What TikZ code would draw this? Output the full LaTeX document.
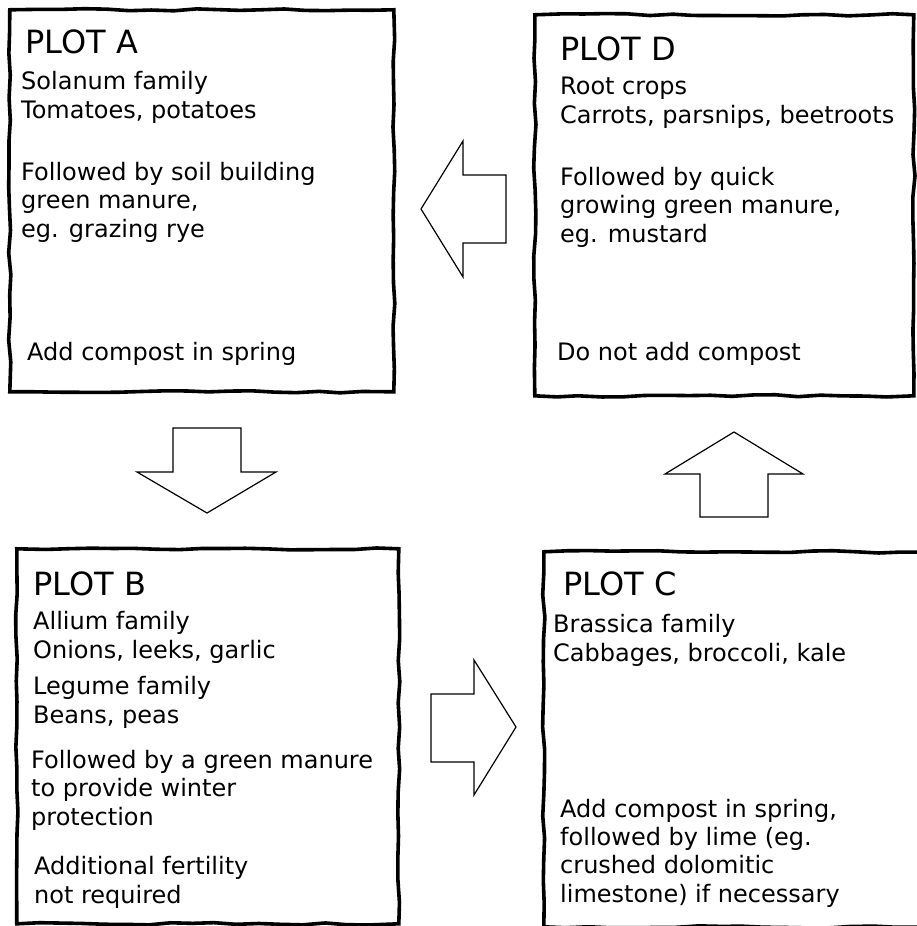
\documentclass[tikz,border=0pt]{standalone}
\usepackage{fontspec}
\setmainfont{DejaVu Sans}
\usetikzlibrary{decorations.pathmorphing}

\tikzset{
  plotbox/.style={draw, line width=3.6pt, inner sep=0pt, anchor=north west,
    decorate, decoration={random steps, segment length=22pt, amplitude=1.2pt}},
  plottitle/.style={anchor=base west, inner sep=0pt, font=\fontsize{32}{38}\selectfont},
  % base of a body node = baseline of its last line
  body/.style={anchor=base west, inner sep=0pt, align=left, font=\fontsize{24}{28.3}\selectfont},
  turnarrow/.style={draw, line width=1.2pt, line join=miter, fill=white}
}

\begin{document}
\begin{tikzpicture}[x=1pt, y=-1pt]
    \useasboundingbox (0,0) rectangle (916,926);
    \pgfmathsetseed{11}

    % the four plots
    \node[plotbox, minimum width=384pt, minimum height=382pt] (plotA) at (8,8) {};
    \node[plotbox, minimum width=379pt, minimum height=381pt] (plotD) at (533,13) {};
    \node[plotbox, minimum width=382pt, minimum height=375pt] (plotB) at (15,547) {};
    \node[plotbox, minimum width=400pt, minimum height=375pt] (plotC) at (542,550) {};

    % plot A
    \node[plottitle] (titleA) at ([shift={(17,45)}]plotA.north west) {PLOT A};
    \node[body] (cropsA) at ([shift={(13,110)}]plotA.north west) {Solanum family\\Tomatoes, potatoes};
    \node[body] (manureA) at ([shift={(13,229)}]plotA.north west) {Followed by soil building\\green manure,\\eg. grazing rye};
    \node[body] (compostA) at ([shift={(19,352)}]plotA.north west) {Add compost in spring};

    % plot D
    \node[plottitle] (titleD) at ([shift={(27,47)}]plotD.north west) {PLOT D};
    \node[body] (cropsD) at ([shift={(27,110)}]plotD.north west) {Root crops\\Carrots, parsnips, beetroots};
    \node[body] (manureD) at ([shift={(27,229)}]plotD.north west) {Followed by quick\\growing green manure,\\eg. mustard};
    \node[body] (compostD) at ([shift={(24,347)}]plotD.north west) {Do not add compost};

    % plot B
    \node[plottitle] (titleB) at ([shift={(18,48)}]plotB.north west) {PLOT B};
    \node[body] (alliumB) at ([shift={(18,111)}]plotB.north west) {Allium family\\Onions, leeks, garlic};
    \node[body] (legumeB) at ([shift={(18,176)}]plotB.north west) {Legume family\\Beans, peas};
    \node[body] (manureB) at ([shift={(16,278)}]plotB.north west) {Followed by a green manure\\to provide winter\\protection};
    \node[body] (fertB) at ([shift={(19,356)}]plotB.north west) {Additional fertility\\not required};

    % plot C
    \node[plottitle] (titleC) at ([shift={(21,45)}]plotC.north west) {PLOT C};
    \node[body] (cropsC) at ([shift={(11,111)}]plotC.north west) {Brassica family\\Cabbages, broccoli, kale};
    \node[body] (compostC) at ([shift={(18,352)}]plotC.north west) {Add compost in spring,\\followed by lime (eg.\\crushed dolomitic\\limestone) if necessary};

    % rotation arrows
    \draw[turnarrow] (506,175) -- (463,175) -- (463,141) -- (421,209) -- (463,277) -- (463,243) -- (506,243) -- cycle; % D to A
    \draw[turnarrow] (173,428) -- (241,428) -- (241,472) -- (276,472) -- (207,513) -- (137,472) -- (173,472) -- cycle; % A to B
    \draw[turnarrow] (431,694) -- (474,694) -- (474,660) -- (516,727) -- (474,795) -- (474,762) -- (431,762) -- cycle; % B to C
    \draw[turnarrow] (700,517) -- (700,474) -- (665,474) -- (734,432) -- (803,474) -- (768,474) -- (768,517) -- cycle; % C to D
\end{tikzpicture}
\end{document}
